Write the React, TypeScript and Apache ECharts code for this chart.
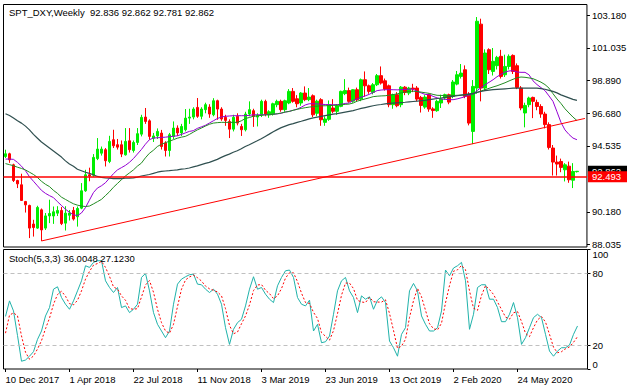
import React, { useEffect, useRef } from 'react';
import * as echarts from 'echarts';

const symbolTitle = 'SPT_DXY,Weekly  92.836 92.862 92.781 92.862';
const stochTitle = 'Stoch(5,3,3) 36.0048 27.1230';
const weeksShown = 146; // 144 weekly bars + 2 empty slots on the right
const priceTicks = [88.035, 90.18, 94.535, 96.68, 98.89, 101.035, 103.18];
const stochTicks = [0, 20, 80, 100];
const stochLevels = [20, 80];
const priceMin = 87.85;
const priceMax = 103.9;
const hLineLevel = 92.493;
const trendStart = [9, 88.25];
const trendEnd = [145.4, 96.36];

const opens = [93.84, 94.02, 93.29, 92.25, 91.97, 90.86, 90.60, 89.37, 89.10, 90.31,
  89.10, 89.91, 89.90, 90.09, 90.27, 89.43, 89.95, 90.27, 89.85, 90.42,
  91.57, 92.63, 92.60, 93.70, 94.06, 94.29, 93.51, 94.95, 94.62, 94.62,
  93.95, 94.88, 94.24, 94.77, 95.32, 96.45, 96.20, 95.05, 95.20, 95.39,
  94.73, 94.24, 95.17, 95.72, 95.40, 95.61, 96.38, 96.45, 97.09, 96.50,
  96.94, 97.11, 96.60, 97.53, 96.98, 96.43, 96.16, 95.65, 96.50, 95.83,
  95.61, 96.65, 96.87, 96.45, 96.60, 97.49, 96.60, 96.65, 97.27, 97.49,
  96.94, 97.38, 98.15, 97.66, 97.38, 98.04, 97.60, 97.86, 96.70, 97.60,
  96.10, 96.30, 97.05, 96.83, 97.16, 98.00, 98.20, 97.50, 98.26, 97.64,
  98.92, 98.52, 98.08, 98.59, 99.19, 98.85, 98.52, 97.27, 97.93, 97.27,
  98.43, 98.04, 98.37, 98.37, 97.75, 97.11, 97.93, 96.99, 96.87, 97.38,
  97.71, 97.93, 97.82, 98.63, 99.14, 99.58, 97.93, 95.50, 98.37, 102.60,
  98.37, 100.91, 99.47, 99.85, 100.47, 99.25, 99.80, 100.53, 99.85, 98.37,
  96.72, 97.27, 97.75, 97.42, 97.15, 96.65, 95.95, 94.40, 93.47, 93.51,
  92.96, 93.20, 92.27, 92.836];

const highs = [94.29, 94.09, 93.36, 92.30, 92.70, 90.90, 90.65, 89.65, 90.58, 90.40,
  90.10, 90.98, 90.53, 90.55, 90.50, 90.55, 90.30, 90.50, 90.53, 92.08,
  92.96, 93.10, 94.00, 95.06, 94.50, 94.40, 95.21, 95.61, 95.00, 94.90,
  95.72, 95.72, 94.90, 95.72, 96.60, 97.05, 96.30, 95.40, 95.70, 95.60,
  94.85, 95.40, 96.16, 95.90, 96.00, 96.98, 97.00, 97.10, 97.71, 97.10,
  97.40, 97.30, 97.70, 97.60, 97.10, 96.60, 96.30, 96.60, 96.70, 96.00,
  96.80, 97.49, 97.00, 96.70, 97.60, 97.60, 96.90, 97.40, 97.60, 97.60,
  97.60, 98.30, 98.37, 97.90, 98.10, 98.48, 98.37, 97.95, 97.60, 97.70,
  96.50, 97.55, 97.64, 97.30, 98.20, 98.96, 98.40, 98.30, 98.40, 99.00,
  99.47, 98.60, 98.70, 99.30, 99.80, 99.00, 98.60, 98.00, 98.10, 98.50,
  98.50, 98.45, 98.65, 98.50, 97.85, 97.90, 98.00, 97.10, 97.60, 97.93,
  98.00, 98.00, 98.90, 99.50, 99.96, 99.87, 98.10, 98.90, 103.07, 102.96,
  100.93, 101.00, 101.02, 100.50, 100.90, 100.58, 100.60, 100.60, 100.00, 98.50,
  97.40, 97.80, 97.80, 97.60, 97.30, 96.80, 96.10, 94.60, 93.90, 93.70,
  93.40, 93.50, 93.40, 92.862];

const lows = [93.74, 93.42, 92.15, 91.75, 90.90, 90.13, 88.44, 88.54, 89.05, 88.25,
  88.98, 89.43, 89.38, 89.90, 89.30, 88.94, 89.60, 89.60, 89.20, 90.35,
  91.50, 92.20, 92.50, 93.60, 93.90, 93.18, 93.40, 94.40, 94.30, 93.80,
  93.90, 94.10, 94.10, 94.60, 95.17, 96.00, 94.95, 94.80, 95.00, 94.30,
  93.84, 93.84, 95.00, 95.20, 95.20, 95.50, 96.00, 96.30, 96.40, 96.30,
  96.70, 96.40, 96.50, 96.27, 96.20, 95.87, 95.06, 95.50, 95.90, 95.20,
  95.50, 96.50, 95.80, 95.83, 96.45, 96.50, 96.40, 96.55, 97.10, 96.80,
  96.80, 97.30, 97.40, 97.10, 97.20, 97.50, 97.50, 96.45, 96.50, 95.87,
  95.87, 96.20, 96.70, 96.60, 97.10, 97.90, 97.40, 97.40, 97.50, 97.50,
  97.80, 97.99, 97.95, 98.50, 98.60, 98.20, 97.10, 97.00, 97.10, 97.10,
  97.90, 97.90, 98.10, 97.50, 96.75, 97.00, 96.80, 96.40, 96.80, 97.05,
  97.60, 97.30, 97.70, 98.55, 99.00, 97.70, 95.90, 94.66, 98.00, 97.49,
  98.20, 99.30, 99.20, 99.60, 99.00, 99.10, 99.60, 99.30, 98.30, 96.90,
  95.77, 97.10, 96.38, 96.90, 96.40, 95.70, 94.30, 92.58, 92.58, 92.80,
  92.19, 92.10, 91.75, 92.781];

const closes = [94.02, 93.62, 92.25, 92.03, 90.93, 90.64, 89.10, 89.14, 90.47, 88.98,
  89.91, 90.07, 90.18, 90.27, 89.40, 90.09, 90.10, 89.70, 90.40, 91.57,
  92.63, 92.55, 93.78, 94.33, 94.33, 93.56, 94.84, 94.55, 94.46, 94.00,
  94.84, 94.29, 94.77, 95.35, 96.43, 96.16, 95.17, 95.20, 95.50, 94.50,
  94.24, 95.28, 95.72, 95.40, 95.83, 96.38, 96.45, 96.98, 96.50, 96.98,
  97.27, 96.65, 97.53, 96.98, 96.32, 96.23, 95.65, 96.43, 96.05, 95.61,
  96.65, 96.94, 96.50, 96.55, 97.49, 96.65, 96.80, 97.33, 97.49, 96.94,
  97.53, 98.15, 97.49, 97.33, 98.04, 97.60, 97.77, 96.60, 97.50, 96.27,
  96.32, 97.27, 96.83, 97.20, 98.15, 98.20, 97.49, 98.26, 97.60, 98.92,
  98.52, 98.15, 98.59, 99.19, 98.70, 98.30, 97.27, 97.93, 97.20, 98.43,
  98.08, 98.37, 98.30, 97.64, 97.22, 97.77, 96.98, 96.88, 97.49, 97.64,
  97.93, 97.44, 98.77, 99.25, 99.36, 97.82, 96.05, 98.48, 102.79, 98.37,
  100.69, 99.58, 100.14, 100.40, 99.14, 99.80, 100.47, 99.47, 98.41, 97.05,
  97.22, 97.71, 97.49, 97.15, 96.65, 95.95, 94.44, 93.47, 93.34, 93.12,
  93.29, 92.30, 92.85, 92.862];

const maFast = [93.67, 93.67, 93.65, 93.45, 93.20, 92.90, 92.50, 92.20, 91.90, 91.60,
  91.40, 91.25, 91.12, 90.85, 90.60, 90.35, 90.15, 89.98, 89.93, 90.10,
  90.45, 90.95, 91.45, 91.75, 91.90, 92.10, 92.40, 92.70, 92.95, 93.10,
  93.25, 93.45, 93.70, 94.00, 94.30, 94.65, 94.95, 95.06, 95.08, 95.10,
  95.12, 95.15, 95.18, 95.21, 95.30, 95.40, 95.50, 95.55, 95.70, 95.80,
  95.90, 96.05, 96.20, 96.35, 96.45, 96.50, 96.52, 96.54, 96.54, 96.54,
  96.54, 96.56, 96.60, 96.60, 96.60, 96.60, 96.62, 96.64, 96.66, 96.70,
  96.78, 96.83, 96.90, 96.98, 97.10, 97.25, 97.33, 97.33, 97.32, 97.30,
  97.28, 97.27, 97.27, 97.27, 97.30, 97.35, 97.38, 97.55, 97.65, 97.77,
  97.85, 97.95, 98.08, 98.20, 98.24, 98.26, 98.26, 98.26, 98.25, 98.26,
  98.28, 98.30, 98.30, 98.15, 98.05, 97.95, 97.93, 97.82, 97.72, 97.65,
  97.62, 97.60, 97.60, 97.65, 97.72, 97.80, 97.90, 97.97, 98.20, 98.40,
  98.59, 98.75, 98.92, 99.12, 99.28, 99.43, 99.50, 99.52, 99.43, 99.41,
  99.41, 99.25, 98.85, 98.60, 98.40, 98.20, 97.85, 97.49, 96.80, 96.10,
  95.60, 95.30, 95.06, 94.95];

const maMid = [93.37, 93.30, 93.23, 93.13, 93.05, 92.95, 92.80, 92.65, 92.45, 92.20,
  92.00, 91.85, 91.60, 91.40, 91.15, 91.00, 90.85, 90.71, 90.62, 90.56,
  90.53, 90.56, 90.70, 90.85, 91.00, 91.25, 91.50, 91.80, 92.05, 92.30,
  92.55, 92.75, 92.95, 93.20, 93.40, 93.75, 94.05, 94.25, 94.50, 94.65,
  94.75, 94.85, 94.95, 95.05, 95.12, 95.17, 95.30, 95.45, 95.60, 95.72,
  95.85, 95.97, 96.05, 96.08, 96.10, 96.10, 96.10, 96.10, 96.10, 96.20,
  96.35, 96.42, 96.50, 96.53, 96.56, 96.60, 96.60, 96.63, 96.67, 96.72,
  96.78, 96.82, 96.90, 96.96, 97.02, 97.07, 97.11, 97.14, 97.17, 97.19,
  97.20, 97.21, 97.22, 97.24, 97.26, 97.29, 97.31, 97.38, 97.50, 97.58,
  97.65, 97.72, 97.80, 97.83, 97.85, 97.86, 97.90, 97.94, 97.98, 98.05,
  98.10, 98.15, 98.16, 98.14, 98.10, 98.06, 98.02, 97.95, 97.89, 97.88,
  97.88, 97.88, 97.88, 97.89, 97.90, 97.92, 97.94, 97.97, 98.08, 98.18,
  98.26, 98.35, 98.44, 98.52, 98.62, 98.72, 98.84, 98.95, 99.05, 99.10,
  99.08, 99.04, 98.99, 98.88, 98.76, 98.60, 98.37, 98.00, 97.65, 97.35,
  97.00, 96.72, 96.45, 96.22];

const maSlow = [96.67, 96.55, 96.38, 96.20, 96.05, 95.85, 95.60, 95.30, 95.05, 94.80,
  94.60, 94.40, 94.20, 94.00, 93.80, 93.55, 93.35, 93.20, 93.00, 92.90,
  92.80, 92.72, 92.63, 92.52, 92.46, 92.42, 92.40, 92.38, 92.38, 92.38,
  92.40, 92.41, 92.43, 92.48, 92.55, 92.60, 92.65, 92.72, 92.80, 92.85,
  92.88, 92.90, 92.93, 92.96, 93.00, 93.03, 93.08, 93.15, 93.22, 93.30,
  93.38, 93.45, 93.55, 93.65, 93.78, 93.90, 94.00, 94.12, 94.22, 94.35,
  94.50, 94.62, 94.75, 94.88, 95.02, 95.17, 95.32, 95.48, 95.62, 95.75,
  95.85, 95.95, 96.02, 96.10, 96.17, 96.25, 96.33, 96.40, 96.45, 96.50,
  96.55, 96.60, 96.64, 96.68, 96.73, 96.78, 96.83, 96.88, 96.95, 97.02,
  97.08, 97.14, 97.20, 97.25, 97.28, 97.32, 97.35, 97.37, 97.39, 97.41,
  97.43, 97.46, 97.48, 97.50, 97.53, 97.56, 97.60, 97.64, 97.68, 97.71,
  97.75, 97.78, 97.82, 97.86, 97.90, 97.94, 97.98, 98.02, 98.08, 98.14,
  98.20, 98.23, 98.26, 98.28, 98.30, 98.32, 98.34, 98.36, 98.37, 98.37,
  98.37, 98.37, 98.37, 98.36, 98.33, 98.29, 98.22, 98.15, 98.05, 97.92,
  97.82, 97.72, 97.62, 97.55];

const stochK = [44.0, 57.0, 48.6, 28.0, 6.5, 7.5, 10.7, 14.5, 24.8, 31.8,
  44.4, 51.4, 66.8, 68.8, 59.8, 54.2, 50.0, 57.0, 65.4, 73.8,
  86.4, 85.0, 89.2, 90.6, 90.6, 73.8, 68.2, 64.0, 68.2, 51.4,
  52.8, 47.2, 50.0, 54.2, 76.6, 80.0, 65.4, 47.2, 37.4, 31.8,
  26.2, 31.8, 54.2, 71.0, 75.2, 77.2, 78.9, 79.4, 71.0, 70.5,
  66.8, 64.0, 66.8, 62.6, 54.2, 34.6, 20.6, 33.2, 38.8, 41.6,
  52.8, 66.8, 77.2, 66.8, 68.2, 62.6, 58.4, 55.6, 69.6, 76.6,
  82.2, 82.8, 76.6, 59.8, 54.2, 52.8, 57.6, 31.8, 37.4, 22.0,
  22.8, 27.6, 45.8, 65.4, 73.8, 76.6, 65.4, 59.8, 47.2, 61.2,
  58.4, 60.4, 50.0, 57.6, 60.4, 55.6, 23.4, 17.8, 10.7, 29.0,
  34.6, 65.4, 71.6, 65.4, 44.4, 37.4, 31.8, 31.8, 34.6, 48.6,
  82.8, 78.0, 84.5, 86.4, 89.2, 73.8, 33.2, 45.8, 68.2, 70.5,
  70.5, 58.4, 58.4, 51.4, 39.6, 39.6, 45.8, 55.6, 43.0, 20.6,
  26.2, 34.6, 43.0, 45.8, 43.0, 29.0, 15.0, 10.7, 15.0, 17.8,
  17.8, 20.0, 29.0, 36.0];

const stochD = [30.0, 45.0, 47.0, 44.5, 27.7, 14.0, 8.2, 10.9, 16.7, 23.7,
  33.7, 42.5, 54.2, 62.3, 65.1, 60.9, 54.7, 53.7, 57.5, 65.4,
  75.2, 81.7, 86.9, 88.3, 90.1, 85.0, 77.5, 68.7, 66.8, 61.2,
  57.5, 50.5, 50.0, 50.5, 60.3, 70.3, 74.0, 64.2, 50.0, 38.8,
  31.8, 29.9, 37.4, 52.3, 66.8, 74.5, 77.1, 78.5, 76.4, 73.6,
  69.4, 67.1, 65.9, 64.5, 61.2, 50.5, 36.5, 29.5, 30.9, 37.9,
  44.4, 53.7, 65.6, 70.3, 70.7, 65.9, 63.1, 58.9, 61.2, 67.3,
  76.1, 80.5, 80.5, 73.1, 63.5, 55.6, 54.9, 47.4, 42.3, 30.4,
  27.4, 24.1, 32.1, 46.3, 61.7, 71.9, 71.9, 67.3, 57.5, 56.1,
  55.6, 60.0, 56.3, 56.0, 56.0, 57.9, 46.5, 32.3, 17.3, 19.2,
  24.8, 43.0, 57.2, 67.5, 60.5, 49.1, 37.9, 33.7, 32.7, 38.3,
  55.3, 69.8, 81.8, 83.0, 86.7, 83.1, 65.4, 50.9, 49.1, 61.5,
  69.7, 66.5, 62.4, 56.1, 49.8, 43.5, 41.7, 47.0, 48.1, 39.7,
  29.9, 27.1, 34.6, 41.1, 43.9, 39.3, 29.0, 18.2, 13.6, 14.5,
  16.9, 18.5, 22.3, 27.1];

const MONTHS = ['Jan', 'Feb', 'Mar', 'Apr', 'May', 'Jun', 'Jul', 'Aug', 'Sep', 'Oct', 'Nov', 'Dec'];
const FONT = 'Liberation Sans';
const FS = 9.5;
const BULL = '#00ee00';
const BEAR = '#ff0000';
const LINE_RED = '#ff0000';

function buildCategories(): string[] {
  const out: string[] = [];
  const start = Date.UTC(2017, 11, 10);
  for (let i = 0; i < weeksShown; i++) {
    const d = new Date(start + i * 7 * 86400000);
    out.push(`${d.getUTCDate()} ${MONTHS[d.getUTCMonth()]} ${d.getUTCFullYear()}`);
  }
  return out;
}

function tagLabel(value: number, bg: string) {
  return {
    show: true, customValues: [value], margin: 1,
    formatter: (v: number) => v.toFixed(3),
    backgroundColor: bg, color: '#ffffff', fontFamily: FONT, fontSize: FS,
    lineHeight: 11, padding: [0, 6, 0, 4],
  };
}

function buildOption() {
  const categories = buildCategories();
  const candleData = opens.map((o, i) => [o, closes[i], lows[i], highs[i]]);
  const lastClose = closes[closes.length - 1];
  const showTick = (index: number) => index % 16 === 0 && index <= 128;
  const redLine = { color: LINE_RED, width: 1, type: 'solid', opacity: 1 };

  return {
    animation: false,
    backgroundColor: '#ffffff',
    textStyle: { fontFamily: FONT, fontSize: FS, color: '#000000' },
    grid: [
      { left: 3.5, top: 4.5, width: 584, height: 242.5, show: true, borderColor: '#000000', borderWidth: 1, backgroundColor: '#ffffff' },
      { left: 3.5, top: 249.5, width: 584, height: 119.5, show: true, borderColor: '#000000', borderWidth: 1, backgroundColor: '#ffffff' },
    ],
    xAxis: [
      {
        type: 'category', gridIndex: 0, data: categories, boundaryGap: true,
        axisLine: { show: false, onZero: false }, axisTick: { show: false }, axisLabel: { show: false }, splitLine: { show: false },
      },
      {
        type: 'category', gridIndex: 1, data: categories, boundaryGap: true,
        axisLine: { show: false, onZero: false },
        axisTick: { show: true, alignWithLabel: true, interval: showTick, length: 3, lineStyle: { color: '#000000' } },
        axisLabel: { show: true, interval: showTick, align: 'left', margin: 5, color: '#000000', fontFamily: FONT, fontSize: FS },
        splitLine: { show: false },
      },
    ],
    yAxis: [
      {
        type: 'value', gridIndex: 0, position: 'right', min: priceMin, max: priceMax, z: 1,
        axisLine: { show: false }, splitLine: { show: false },
        axisTick: { show: true, customValues: priceTicks, length: 3, lineStyle: { color: '#000000' } },
        axisLabel: {
          show: true, customValues: priceTicks, margin: 5, color: '#000000', fontFamily: FONT, fontSize: FS,
          formatter: (v: number) => v.toFixed(3),
        },
      },
      {
        type: 'value', gridIndex: 1, position: 'right', min: 0, max: 100,
        axisLine: { show: false }, splitLine: { show: false },
        axisTick: { show: true, customValues: stochTicks, length: 3, lineStyle: { color: '#000000' } },
        axisLabel: {
          show: true, customValues: stochTicks, margin: 5, color: '#000000', fontFamily: FONT, fontSize: FS,
          showMinLabel: true, showMaxLabel: true,
          verticalAlignMinLabel: 'bottom', verticalAlignMaxLabel: 'top',
        },
      },
      {
        // price tag of the last close (black)
        type: 'value', gridIndex: 0, position: 'right', min: priceMin, max: priceMax, z: 10,
        axisLine: { show: false }, splitLine: { show: false },
        axisTick: { show: false, customValues: [lastClose] },
        axisLabel: tagLabel(lastClose, '#000000'),
      },
      {
        // horizontal level with its red price tag
        type: 'value', gridIndex: 0, position: 'right', min: priceMin, max: priceMax, z: 11,
        axisLine: { show: false },
        splitLine: { show: true, lineStyle: { color: LINE_RED, width: 1.5, type: 'solid', opacity: 1 } },
        axisTick: { show: false, customValues: [hLineLevel] },
        axisLabel: tagLabel(hLineLevel, LINE_RED),
      },
    ],
    graphic: [
      { type: 'text', left: 9, top: 7, z: 100, style: { text: symbolTitle, fill: '#000000', fontFamily: FONT, fontSize: FS } },
      { type: 'text', left: 9, top: 253.5, z: 100, style: { text: stochTitle, fill: '#000000', fontFamily: FONT, fontSize: FS } },
    ],
    series: [
      {
        type: 'candlestick', name: 'DXY', xAxisIndex: 0, yAxisIndex: 0, barWidth: 3,
        data: candleData,
        itemStyle: { color: BULL, color0: BEAR, borderColor: BULL, borderColor0: BEAR, borderWidth: 1 },
        z: 2,
      },
      {
        type: 'line', name: 'Trend', xAxisIndex: 0, yAxisIndex: 0, data: [], symbol: 'none', z: 3,
        color: LINE_RED,
        lineStyle: { color: LINE_RED, width: 1 },
        markLine: {
          silent: true,
          symbol: ['none', 'none'],
          animation: false,
          label: { show: false },
          lineStyle: redLine,
          data: [
            [{ coord: trendStart, lineStyle: redLine }, { coord: trendEnd }],
          ],
        },
      },
      { type: 'line', name: 'MA fast', xAxisIndex: 0, yAxisIndex: 0, data: maFast, symbol: 'none', z: 4, lineStyle: { color: '#9400d3', width: 1 } },
      { type: 'line', name: 'MA mid', xAxisIndex: 0, yAxisIndex: 0, data: maMid, symbol: 'none', z: 4, lineStyle: { color: '#228b22', width: 1 } },
      { type: 'line', name: 'MA slow', xAxisIndex: 0, yAxisIndex: 0, data: maSlow, symbol: 'none', z: 4, lineStyle: { color: '#2f4f4f', width: 1.2 } },
      {
        type: 'line', name: '%K', xAxisIndex: 1, yAxisIndex: 1, data: stochK, symbol: 'none', z: 4,
        lineStyle: { color: '#20b2aa', width: 1 },
        markLine: {
          silent: true, symbol: ['none', 'none'], animation: false, label: { show: false },
          lineStyle: { color: '#c0c0c0', width: 1, type: [4, 3] },
          data: stochLevels.map((v) => ({ yAxis: v })),
        },
      },
      { type: 'line', name: '%D', xAxisIndex: 1, yAxisIndex: 1, data: stochD, symbol: 'none', z: 4, lineStyle: { color: '#ff0000', width: 1, type: [2, 2] } },
    ],
  };
}

export default function App() {
  const ref = useRef<HTMLDivElement>(null);
  useEffect(() => {
    if (!ref.current) return;
    const chart = echarts.init(ref.current, undefined, { renderer: 'svg' });
    chart.setOption(buildOption() as any);
    return () => chart.dispose();
  }, []);
  return (
    <div
      ref={ref}
      style={{ position: 'absolute', left: 0, top: 0, width: 630, height: 390, background: '#ffffff' }}
    />
  );
}
